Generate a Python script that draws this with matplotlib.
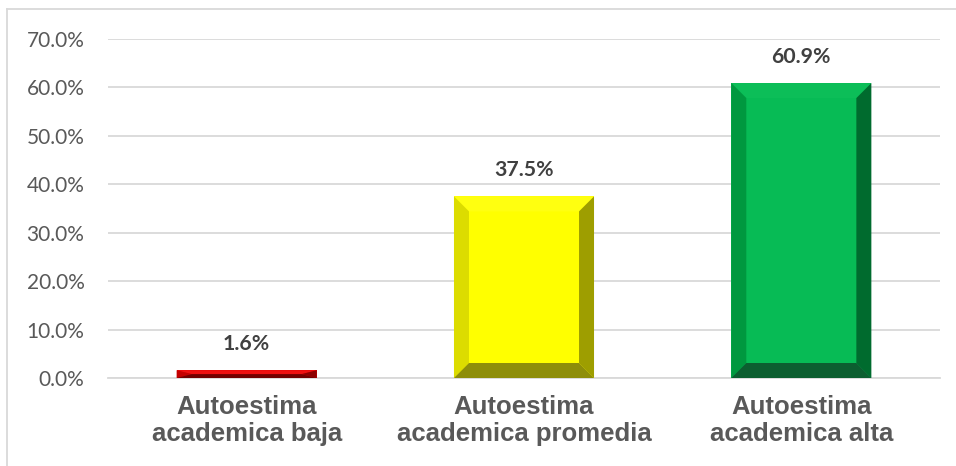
import matplotlib
matplotlib.use("Agg")
import matplotlib.pyplot as plt
from matplotlib.patches import Polygon
from matplotlib.lines import Line2D

categories = ["Autoestima\nacademica baja", "Autoestima\nacademica promedia", "Autoestima\nacademica alta"]
values = [0.016, 0.375, 0.609]
value_labels = ["1.6%", "37.5%", "60.9%"]
yticks = [0.0, 0.1, 0.2, 0.3, 0.4, 0.5, 0.6, 0.7]

# face, top, left, right, bottom
palettes = [
    ("#E00000", "#EE1010", "#C40000", "#8C0000", "#720000"),
    ("#FFFF00", "#FFFF10", "#DCDC00", "#9E9E00", "#8E8E0A"),
    ("#07BB55", "#0CBE58", "#00983F", "#006B2E", "#0C5E30"),
]

W, H, DPI = 956, 466, 100
fig = plt.figure(figsize=(W / DPI, H / DPI), dpi=DPI)
ax = fig.add_axes([108 / W, (H - 378) / H, (940 - 108) / W, (378 - 39) / H])
ax.set_xlim(-0.5, 2.5)
ax.set_ylim(0, 0.7)

bw = 0.505
xs = list(range(len(values)))
ax.bar(xs, values, width=bw, color=[p[0] for p in palettes], zorder=3)

# bevel size in pixels -> data units
px_x = (940 - 108) / 3.0
px_y = (378 - 39) / 0.7
bev = 15
dx = bev / px_x
for x, v, pal in zip(xs, values, palettes):
    x0, x1 = x - bw / 2, x + bw / 2
    y0, y1 = 0.0, v
    dy = min(bev / px_y, v / 2)
    face, top, left, right, bottom = pal
    polys = [
        ([(x0, y1), (x0 + dx, y1 - dy), (x1 - dx, y1 - dy), (x1, y1)], top),
        ([(x0, y0), (x0 + dx, y0 + dy), (x0 + dx, y1 - dy), (x0, y1)], left),
        ([(x1, y0), (x1 - dx, y0 + dy), (x1 - dx, y1 - dy), (x1, y1)], right),
        ([(x0, y0), (x0 + dx, y0 + dy), (x1 - dx, y0 + dy), (x1, y0)], bottom),
    ]
    for pts, c in polys:
        ax.add_patch(Polygon(pts, closed=True, facecolor=c, edgecolor="none", zorder=4))

for x, v, lab in zip(xs, values, value_labels):
    ax.annotate(lab, (x, v), xytext=(0, 19), textcoords="offset points", ha="center", va="center",
                fontsize=15.3, fontweight="bold", color="#404040", family=["Lato", "DejaVu Sans"])

ax.set_yticks(yticks)
ax.set_yticklabels([f"{t*100:.1f}%" for t in yticks], fontsize=15, color="#595959", family=["Lato", "DejaVu Sans"])
ax.set_xticks(xs)
ax.set_xticklabels(categories, fontsize=18.5, fontweight="bold", color="#595959",
                   family=["Liberation Sans", "DejaVu Sans"], linespacing=1.15)
ax.tick_params(axis="both", length=0)
ax.tick_params(axis="y", pad=17)
ax.tick_params(axis="x", pad=12)
ax.grid(axis="y", color="#D9D9D9", linewidth=1.3, zorder=0)
for s in ["top", "right", "left"]:
    ax.spines[s].set_visible(False)
ax.spines["bottom"].set_color("#D9D9D9")
ax.spines["bottom"].set_linewidth(1.3)

# outer chart border (top and left)
fig.add_artist(Line2D([7 / W, 7 / W], [0, (H - 9) / H], color="#D9D9D9", linewidth=1.3))
fig.add_artist(Line2D([7 / W, 1], [(H - 9) / H, (H - 9) / H], color="#D9D9D9", linewidth=1.3))

fig.savefig("out.png", dpi=DPI)
